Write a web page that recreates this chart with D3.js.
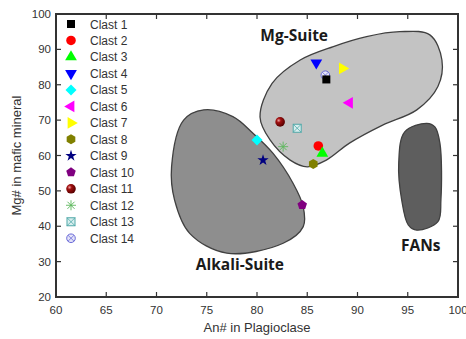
<!DOCTYPE html>
<html><head><meta charset="utf-8">
<script src="https://cdn.jsdelivr.net/npm/d3@7/dist/d3.min.js"></script>
<style>body{margin:0;background:#fff}svg{display:block}</style>
</head><body><svg id="c" width="466" height="339"></svg>
<script>
const clastNames = ["Clast 1","Clast 2","Clast 3","Clast 4","Clast 5","Clast 6","Clast 7","Clast 8","Clast 9","Clast 10","Clast 11","Clast 12","Clast 13","Clast 14"];
const anValues = [86.9, 86.1, 86.5, 85.9, 80.0, 89.2, 88.5, 85.6, 80.6, 84.5, 82.3, 82.6, 84.0, 86.8];
const mgValues = [81.5, 62.7, 60.6, 86.2, 64.4, 74.9, 84.6, 57.6, 58.7, 46.0, 69.5, 62.5, 67.7, 82.7];
const xTicks = [60,65,70,75,80,85,90,95,100];
const yTicks = [20,30,40,50,60,70,80,90,100];
const mgSuiteAn = [80.3,81.5,84.3,87.6,90.9,94.2,97.2,98.4,98.0,95.9,92.5,89.2,86.9,85.0,83.3,81.3];
const mgSuiteMg = [70.9,80.4,87.0,90.8,93.6,95.0,94.1,87.0,79.5,72.9,68.6,63.5,58.7,56.8,58.7,64.4];
const alkaliAn = [74.7,72.7,71.5,71.8,73.3,77.0,82.6,84.6,84.6,83.6,81.6,79.6,77.6];
const alkaliMg = [72.9,70.0,56.8,47.4,38.0,32.4,35.2,39.9,45.5,52.1,60.6,66.3,71.0];
const fansAn = [96.9,94.7,94.1,94.4,95.05,95.9,98.0,98.3,98.2,97.7];
const fansMg = [69.1,66.7,57.8,47.4,40.4,38.9,41.3,47.4,63.5,68.1];

const svg = d3.select("#c");
const L=56,R=458,T=14,B=297;
const x = d3.scaleLinear().domain([60,100]).range([L,R]);
const y = d3.scaleLinear().domain([20,100]).range([B,T]);

const defs = svg.append("defs");
const rg = defs.append("radialGradient").attr("id","sph").attr("cx","35%").attr("cy","35%").attr("r","65%");
rg.append("stop").attr("offset","0%").attr("stop-color","#f0a0a0");
rg.append("stop").attr("offset","35%").attr("stop-color","#a01010");
rg.append("stop").attr("offset","100%").attr("stop-color","#5a0000");

// regions
const line = d3.line().x(d=>x(d[0])).y(d=>y(d[1])).curve(d3.curveCatmullRomClosed.alpha(0.5));
function region(an,mg,fill){
  svg.append("path").attr("d",line(an.map((v,i)=>[v,mg[i]]))).attr("fill",fill).attr("stroke","#404040").attr("stroke-width",1.3);
}
region(mgSuiteAn,mgSuiteMg,"#c3c3c3");
region(alkaliAn,alkaliMg,"#8e8e8e");
region(fansAn,fansMg,"#5e5e5e");

// region labels
const lab = [["Mg-Suite",83.7,92.4],["Alkali-Suite",78.3,27.6],["FANs",96.3,33.0]];
lab.forEach(l=>svg.append("text").attr("x",x(l[1])).attr("y",y(l[2])).attr("text-anchor","middle")
  .attr("font-family","'Open Sans',sans-serif").attr("font-weight","bold").attr("font-size",15.5).attr("fill","#1a1a1a").text(l[0]));

// axes frame
const ax = svg.append("g").attr("font-family","Liberation Sans, Arial, sans-serif").attr("font-size",11.5).attr("fill","#333");
const tk=5;
xTicks.forEach(t=>{
  ax.append("line").attr("x1",x(t)).attr("x2",x(t)).attr("y1",B).attr("y2",B-tk).attr("stroke","#333").attr("stroke-width",1.2);
  ax.append("line").attr("x1",x(t)).attr("x2",x(t)).attr("y1",T).attr("y2",T+tk).attr("stroke","#333").attr("stroke-width",1.2);
  ax.append("text").attr("x",x(t)).attr("y",B+17).attr("text-anchor","middle").text(t);
});
yTicks.forEach(t=>{
  ax.append("line").attr("x1",L).attr("x2",L+tk).attr("y1",y(t)).attr("y2",y(t)).attr("stroke","#333").attr("stroke-width",1.2);
  ax.append("line").attr("x1",R).attr("x2",R-tk).attr("y1",y(t)).attr("y2",y(t)).attr("stroke","#333").attr("stroke-width",1.2);
  ax.append("text").attr("x",L-5).attr("y",y(t)+4).attr("text-anchor","end").text(t);
});
svg.append("rect").attr("x",L).attr("y",T).attr("width",R-L).attr("height",B-T).attr("fill","none").attr("stroke","#333").attr("stroke-width",2);
ax.append("text").attr("x",(L+R)/2).attr("y",332).attr("text-anchor","middle").attr("font-size",13).text("An# in Plagioclase");
ax.append("text").attr("transform",`translate(21,${(T+B)/2}) rotate(-90)`).attr("text-anchor","middle").attr("font-size",13).text("Mg# in mafic mineral");

// markers
function poly(n,r,rot){const p=[];for(let i=0;i<n;i++){const a=rot+i*2*Math.PI/n;p.push([r*Math.cos(a),r*Math.sin(a)]);}return "M"+p.map(q=>q.join(",")).join("L")+"Z";}
function marker(g,i){
  const tri=d3.symbol().type(d3.symbolTriangle).size(60)();
  switch(i){
    case 0: g.append("rect").attr("x",-4).attr("y",-4).attr("width",8).attr("height",8).attr("fill","#000"); break;
    case 1: g.append("circle").attr("r",4.8).attr("fill","#ff0000"); break;
    case 2: g.append("path").attr("d",tri).attr("fill","#00ff00"); break;
    case 3: g.append("path").attr("d",tri).attr("transform","rotate(180)").attr("fill","#0000ff"); break;
    case 4: g.append("path").attr("d",poly(4,5.5,0)).attr("fill","#00ffff"); break;
    case 5: g.append("path").attr("d",tri).attr("transform","rotate(-90)").attr("fill","#ff00ff"); break;
    case 6: g.append("path").attr("d",tri).attr("transform","rotate(90)").attr("fill","#ffff00"); break;
    case 7: g.append("path").attr("d",poly(6,5,Math.PI/2)).attr("fill","#808000"); break;
    case 8: g.append("path").attr("d",d3.symbol().type(d3.symbolStar).size(40)()).attr("fill","#000080"); break;
    case 9: g.append("path").attr("d",poly(5,5,-Math.PI/2)).attr("fill","#800080"); break;
    case 10: g.append("circle").attr("r",4.8).attr("fill","url(#sph)"); break;
    case 11: {const s="#5cb85c";[0,45,90,135].forEach(a=>g.append("line").attr("x1",-5).attr("x2",5).attr("transform",`rotate(${a})`).attr("stroke",s).attr("stroke-width",0.9));break;}
    case 12: {const s="#4fa8a8";g.append("rect").attr("x",-4).attr("y",-4).attr("width",8).attr("height",8).attr("fill","#d8eeee").attr("stroke",s).attr("stroke-width",1);
      g.append("path").attr("d","M-4,-4L4,4M-4,4L4,-4").attr("stroke",s).attr("stroke-width",0.8);break;}
    case 13: {const s="#6a6ad8";g.append("circle").attr("r",4.3).attr("fill","#e4e4f8").attr("stroke",s).attr("stroke-width",1);
      g.append("path").attr("d","M-3,-3L3,3M-3,3L3,-3").attr("stroke",s).attr("stroke-width",0.8);break;}
  }
}
const order=[13,0,1,2,3,4,5,6,7,8,9,10,11,12];
order.forEach(i=>{const g=svg.append("g").attr("transform",`translate(${x(anValues[i])},${y(mgValues[i])})`);marker(g,i);});

// legend
const lg = svg.append("g").attr("font-family","Liberation Sans, Arial, sans-serif").attr("font-size",12).attr("fill","#333");
clastNames.forEach((n,i)=>{
  const yy=24+i*16.48;
  const g=lg.append("g").attr("transform",`translate(71,${yy})`);marker(g,i);
  lg.append("text").attr("x",90).attr("y",yy+4.5).text(n);
});
</script></body></html>
